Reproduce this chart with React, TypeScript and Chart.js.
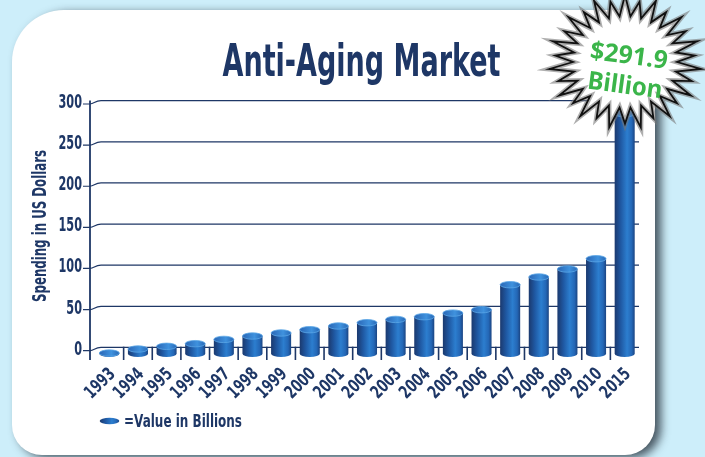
import React, { useEffect, useRef } from "react";
import { Chart, registerables } from "chart.js";

Chart.register(...registerables);

const years = [
  "1993", "1994", "1995", "1996", "1997", "1998", "1999", "2000", "2001", "2002",
  "2003", "2004", "2005", "2006", "2007", "2008", "2009", "2010", "2015",
];
const spending = [
  0.8, 5.7, 9.0, 12.2, 17.4, 21.5, 25.2, 29.2, 33.7, 37.7,
  41.7, 45.0, 49.4, 53.5, 83.9, 93.3, 103.0, 115.5, 291.9,
];
const yTicks = [0, 50, 100, 150, 200, 250, 300];
const titleText = "Anti-Aging Market";
const yTitleText = "Spending in US Dollars";
const legendText = "=Value in Billions";
const burstLines = ["$291.9", "Billion"];

const NAVY = "#1e3766";
const BG = "#cdeefa";
const GREEN = "#3bb54a";
const FONT = '"DejaVu Sans", sans-serif';

function fitText(
  ctx: CanvasRenderingContext2D,
  text: string,
  x: number,
  y: number,
  width: number,
  font: string,
  color: string,
  align: CanvasTextAlign
) {
  ctx.save();
  ctx.font = font;
  const w = ctx.measureText(text).width;
  const s = width / w;
  ctx.translate(x, y);
  ctx.scale(s, 1);
  ctx.fillStyle = color;
  ctx.textAlign = align;
  ctx.textBaseline = "alphabetic";
  ctx.fillText(text, 0, 0);
  ctx.restore();
}

function sideGradient(ctx: CanvasRenderingContext2D, x0: number, x1: number) {
  const g = ctx.createLinearGradient(x0, 0, x1, 0);
  g.addColorStop(0, "#1b396e");
  g.addColorStop(0.3, "#1f58a2");
  g.addColorStop(0.62, "#2c7ecf");
  g.addColorStop(0.85, "#2467b6");
  g.addColorStop(1, "#1a4482");
  return g;
}

function capGradient(ctx: CanvasRenderingContext2D, x0: number, x1: number) {
  const g = ctx.createLinearGradient(x0, 0, x1, 0);
  g.addColorStop(0, "#2a66b5");
  g.addColorStop(0.6, "#3f92de");
  g.addColorStop(1, "#2868b6");
  return g;
}

function drawCylinder(ctx: CanvasRenderingContext2D, x: number, top: number, bottom: number, w: number) {
  const rx = w / 2;
  const ry = 3.2;
  ctx.save();
  if (bottom - top > 0.5) {
    ctx.beginPath();
    ctx.moveTo(x - rx, top);
    ctx.lineTo(x - rx, bottom);
    ctx.ellipse(x, bottom, rx, ry, 0, Math.PI, 0, true);
    ctx.lineTo(x + rx, top);
    ctx.closePath();
    ctx.fillStyle = sideGradient(ctx, x - rx, x + rx);
    ctx.fill();
  }
  ctx.beginPath();
  ctx.ellipse(x, top, rx, ry, 0, 0, Math.PI * 2);
  ctx.fillStyle = capGradient(ctx, x - rx, x + rx);
  ctx.fill();
  ctx.lineWidth = 0.8;
  ctx.strokeStyle = "#5aa6e6";
  ctx.stroke();
  ctx.restore();
}

const decor = {
  id: "decor",
  beforeDraw(chart: any) {
    const { ctx, width, height } = chart;
    ctx.save();
    ctx.fillStyle = BG;
    ctx.fillRect(0, 0, width, height);
    ctx.shadowColor = "rgba(25,35,45,0.75)";
    ctx.shadowBlur = 10;
    ctx.shadowOffsetX = 6;
    ctx.shadowOffsetY = 3;
    ctx.beginPath();
    (ctx as any).roundRect(12, 10, 643, 445, [52, 30, 30, 30]);
    ctx.fillStyle = "#ffffff";
    ctx.fill();
    ctx.restore();

    fitText(ctx, titleText, 361.5, 76, 278, `bold 44px ${FONT}`, NAVY, "center");

    ctx.save();
    ctx.font = `bold 19px ${FONT}`;
    const w = ctx.measureText(yTitleText).width;
    ctx.translate(46, 226);
    ctx.rotate(-Math.PI / 2);
    ctx.scale(152 / w, 1);
    ctx.fillStyle = NAVY;
    ctx.textAlign = "center";
    ctx.textBaseline = "alphabetic";
    ctx.fillText(yTitleText, 0, 0);
    ctx.restore();
  },
  beforeDatasetsDraw(chart: any) {
    const { ctx, chartArea } = chart;
    const ys = chart.scales.y;
    const xs = chart.scales.x;
    ctx.save();
    ctx.strokeStyle = NAVY;
    ctx.lineWidth = 1.2;
    for (const v of yTicks) {
      const py = ys.getPixelForValue(v);
      ctx.beginPath();
      ctx.moveTo(83, py);
      ctx.lineTo(90, py);
      ctx.bezierCurveTo(94, py, 95, py - 3.3, 101, py - 3.3);
      ctx.lineTo(chartArea.right, py - 3.3);
      ctx.stroke();
    }
    ctx.lineWidth = 1.8;
    ctx.beginPath();
    ctx.moveTo(90, ys.getPixelForValue(300) - 3.5);
    ctx.lineTo(90, chartArea.bottom);
    ctx.stroke();
    ctx.lineWidth = 1.6;
    const zeroY = ys.getPixelForValue(0) - 4;
    for (let k = 1; k < years.length; k++) {
      const px = (xs.getPixelForTick(k - 1) + xs.getPixelForTick(k)) / 2;
      ctx.beginPath();
      ctx.moveTo(px, zeroY);
      ctx.lineTo(px, chartArea.bottom);
      ctx.stroke();
    }
    ctx.restore();

    // y tick labels
    ctx.save();
    ctx.fillStyle = NAVY;
    ctx.font = `bold 19px ${FONT}`;
    const sY = 23.5 / ctx.measureText("300").width;
    ys.ticks.forEach((t: any) => {
      const py = ys.getPixelForValue(t.value);
      ctx.save();
      ctx.translate(82, py - 1);
      ctx.scale(sY, 1);
      ctx.textAlign = "right";
      ctx.textBaseline = "middle";
      ctx.fillText(String(t.value), 0, 0);
      ctx.restore();
    });
    ctx.restore();

    // x tick labels
    ctx.save();
    ctx.fillStyle = NAVY;
    ctx.font = `bold 18px ${FONT}`;
    const sX = 35 / ctx.measureText("1993").width;
    years.forEach((lab, i) => {
      const px = xs.getPixelForTick(i);
      ctx.save();
      ctx.translate(px + 3.5, 371.5);
      ctx.rotate(-Math.PI / 4);
      ctx.scale(sX, 1);
      ctx.textAlign = "right";
      ctx.textBaseline = "middle";
      ctx.fillText(lab, 0, 0);
      ctx.restore();
    });
    ctx.restore();
  },
  afterDatasetsDraw(chart: any) {
    const { ctx } = chart;
    const meta = chart.getDatasetMeta(0);
    meta.data.forEach((bar: any) => {
      const p = bar.getProps(["x", "y", "base", "width"], true);
      drawCylinder(ctx, p.x, p.y + 3, p.base + 3, p.width);
    });
  },
  afterDraw(chart: any) {
    const { ctx } = chart;
    // legend
    ctx.save();
    ctx.beginPath();
    ctx.ellipse(109.5, 421, 9.8, 3.2, 0, 0, Math.PI * 2);
    ctx.fillStyle = sideGradient(ctx, 99.7, 119.3);
    ctx.fill();
    ctx.restore();
    ctx.save();
    ctx.font = `bold 17px ${FONT}`;
    const lw = ctx.measureText(legendText).width;
    ctx.translate(124, 427);
    ctx.scale(118 / lw, 1);
    ctx.fillStyle = NAVY;
    ctx.textBaseline = "alphabetic";
    ctx.fillText(legendText, 0, 0);
    ctx.restore();

    // starburst
    const cx = 625;
    const cy = 62;
    const N = 30;
    ctx.save();
    ctx.beginPath();
    for (let i = 0; i < N * 2; i++) {
      const a = -Math.PI / 2 + (i * Math.PI) / N;
      const outer = (i / 2) % 2 === 0 ? 76 : 70;
      const r = i % 2 === 0 ? outer : 52;
      const px = cx + r * Math.cos(a);
      const py = cy + r * Math.sin(a) * 0.88;
      if (i === 0) ctx.moveTo(px, py);
      else ctx.lineTo(px, py);
    }
    ctx.closePath();
    ctx.fillStyle = "#ffffff";
    ctx.fill();
    ctx.lineJoin = "miter";
    ctx.strokeStyle = "rgba(120,120,120,0.6)";
    ctx.lineWidth = 5;
    ctx.stroke();
    ctx.strokeStyle = "#111111";
    ctx.lineWidth = 1.8;
    ctx.stroke();
    ctx.restore();

    ctx.save();
    ctx.translate(627, 70.5);
    ctx.rotate((7.5 * Math.PI) / 180);
    ctx.fillStyle = GREEN;
    ctx.textAlign = "center";
    ctx.textBaseline = "middle";
    ctx.font = 'bold 25px "Noto Sans", "DejaVu Sans", sans-serif';
    const w1 = ctx.measureText(burstLines[0]).width;
    ctx.save();
    ctx.scale(78 / w1, 1);
    ctx.fillText(burstLines[0], 0, -14);
    ctx.restore();
    const w2 = ctx.measureText(burstLines[1]).width;
    ctx.save();
    ctx.scale(75 / w2, 1);
    ctx.fillText(burstLines[1], 0, 16);
    ctx.restore();
    ctx.restore();
  },
};

export default function App() {
  const ref = useRef<HTMLCanvasElement | null>(null);
  useEffect(() => {
    document.body.style.margin = "0";
    const canvas = ref.current;
    if (!canvas) return;
    const chart = new Chart(canvas, {
      type: "bar",
      data: {
        labels: years,
        datasets: [
          {
            data: spending,
            backgroundColor: "rgba(0,0,0,0)",
            borderWidth: 0,
            barPercentage: 0.7,
            categoryPercentage: 1,
          },
        ],
      },
      options: {
        responsive: false,
        animation: false,
        devicePixelRatio: 1,
        events: [],
        layout: { padding: { left: 0, right: 66, top: 104, bottom: 0 } },
        plugins: {
          legend: { display: false },
          title: { display: false },
          tooltip: { enabled: false },
        },
        scales: {
          x: {
            grid: { display: false, drawTicks: false },
            border: { display: false },
            ticks: { display: false, autoSkip: false },
            afterFit: (s: any) => {
              s.height = 97;
            },
          },
          y: {
            min: -11.3,
            max: 300,
            grid: { display: false, drawTicks: false },
            border: { display: false },
            ticks: { display: false, stepSize: 50 },
            afterBuildTicks: (s: any) => {
              s.ticks = yTicks.map((v) => ({ value: v }));
            },
            afterFit: (s: any) => {
              s.width = 95;
            },
          },
        },
      } as any,
      plugins: [decor as any],
    });
    return () => chart.destroy();
  }, []);
  return (
    <div style={{ width: 705, height: 457 }}>
      <canvas ref={ref} width={705} height={457} style={{ display: "block" }} />
    </div>
  );
}
